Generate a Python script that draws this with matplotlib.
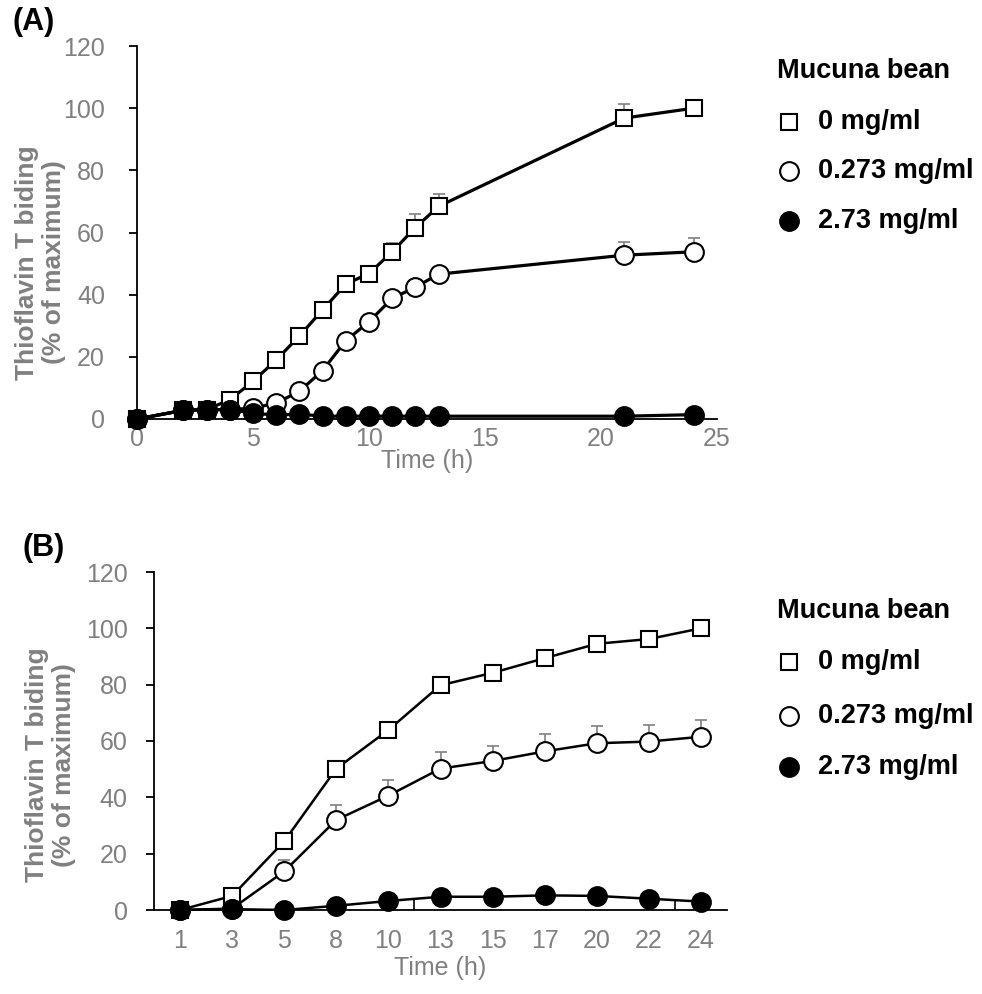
import matplotlib
matplotlib.use("Agg")
import matplotlib.pyplot as plt
from matplotlib.lines import Line2D

plt.rcParams['font.family'] = ['Liberation Sans', 'DejaVu Sans']

GRAY = '#808080'

# ---------------- Panel A data ----------------
time_a = [0, 2, 3, 4, 5, 6, 7, 8, 9, 10, 11, 12, 13, 21, 24]
a_0 = [0, 2.8, 3.0, 6.2, 12.1, 19.0, 26.7, 35.1, 43.4, 46.8, 53.8, 61.6, 68.4, 96.8, 100]
a_0_err = [0, 0, 0, 0, 0, 0, 0, 0, 0, 0, 2.7, 4.5, 4.0, 4.6, 0]
a_0273 = [0, 2.8, 3.0, 3.0, 3.5, 5.1, 8.9, 15.6, 25.2, 31.3, 38.8, 42.4, 46.6, 52.7, 53.8]
a_0273_err = [0, 0, 0, 0, 0, 0, 0, 0, 0, 0, 0, 0, 0, 4.1, 4.3]
a_273 = [0, 2.8, 3.0, 3.0, 1.9, 1.2, 1.6, 0.9, 0.9, 0.9, 0.9, 0.9, 0.9, 0.9, 1.4]

# ---------------- Panel B data ----------------
time_b = ['1', '3', '5', '8', '10', '13', '15', '17', '20', '22', '24']
b_0 = [0, 5.0, 24.4, 50.2, 63.9, 79.8, 84.2, 89.4, 94.5, 96.2, 100]
b_0273 = [0, 0.5, 13.7, 32.0, 40.6, 50.2, 52.9, 56.3, 59.2, 59.8, 61.5]
b_0273_err = [0, 0, 4.0, 5.2, 5.7, 5.8, 5.5, 6.1, 6.1, 5.9, 6.0]
b_273 = [0, 0.3, 0, 1.5, 3.2, 4.7, 4.7, 5.2, 5.0, 4.0, 3.0]

legend_title = 'Mucuna bean'
legend_labels = ['0 mg/ml', '0.273 mg/ml', '2.73 mg/ml']
ylabel = 'Thioflavin T biding\n(% of maximum)'
xlabel = 'Time (h)'

W, H = 982, 994
fig = plt.figure(figsize=(W / 100, H / 100), dpi=100)

def fx(px):
    return px / W

def fy(py):
    return 1 - py / H

def style_axis(ax, ypad):
    for s in ['top', 'right']:
        ax.spines[s].set_visible(False)
    ax.spines['left'].set_linewidth(1.3)
    ax.spines['bottom'].set_linewidth(1.3)
    ax.set_ylim(0, 120)
    ax.set_yticks(range(0, 121, 20))
    ax.tick_params(axis='y', direction='out', length=6, width=1.3, colors='black',
                   labelcolor=GRAY, labelsize=18, pad=ypad)
    ax.tick_params(axis='x', labelcolor=GRAY, labelsize=18)
    ax.set_ylabel(ylabel, fontsize=19, fontweight='bold', color=GRAY,
                  linespacing=1.15, va='center')
    ax.set_xlabel(xlabel, fontsize=18, color=GRAY)

marker_styles = [
    dict(marker='s', mfc='white', mec='black', ms=12, mew=1.5),
    dict(marker='o', mfc='white', mec='black', ms=13.5, mew=1.5),
    dict(marker='o', mfc='black', mec='black', ms=13.5, mew=1.5),
]

def add_legend(fig, title_y, entry_ys):
    fig.text(fx(777), fy(title_y), legend_title, fontsize=19.5, fontweight='bold',
             ha='left', va='center')
    for st, lab, y in zip(marker_styles, legend_labels, entry_ys):
        fig.add_artist(Line2D([fx(789)], [fy(y)], ls='none', transform=fig.transFigure, **st))
        fig.text(fx(818), fy(y), lab, fontsize=19.5, fontweight='bold', ha='left', va='center')

# ---------------- Panel A ----------------
axA = fig.add_axes([fx(137), fy(419), fx(717) - fx(137), fy(46) - fy(419)])
style_axis(axA, 17)
axA.set_xlim(0, 25)
axA.set_xticks(range(0, 26, 5))
axA.tick_params(axis='x', length=0, pad=6)
ekw = dict(ecolor=GRAY, elinewidth=1.2, capsize=4, capthick=1.2)
axA.errorbar(time_a, a_0, yerr=[[0] * len(a_0_err), a_0_err], fmt='none', zorder=1, **ekw)
axA.errorbar(time_a, a_0273, yerr=[[0] * len(a_0273_err), a_0273_err], fmt='none', zorder=1, **ekw)
axA.plot(time_a, a_0, '-', color='black', lw=2.3, zorder=3, clip_on=False, **marker_styles[0])
axA.plot(time_a, a_0273, '-', color='black', lw=2.3, zorder=4, clip_on=False, **marker_styles[1])
axA.plot(time_a, a_273, '-', color='black', lw=2.3, zorder=5, clip_on=False, **marker_styles[2])
axA.yaxis.set_label_coords(-0.166, 0.42)
axA.xaxis.set_label_coords(0.5, -0.113)
axA.xaxis.label.set_va('center')
add_legend(fig, 71, [122, 171, 221])
fig.text(fx(12), fy(22), '(A)', fontsize=22, fontweight='bold', va='center', ha='left')

# ---------------- Panel B ----------------
axB = fig.add_axes([fx(154), fy(910), fx(727) - fx(154), fy(572) - fy(910)])
style_axis(axB, 13)
xb = list(range(len(time_b)))
axB.set_xlim(-0.5, len(time_b) - 0.5)
axB.set_xticks(xb)
axB.set_xticklabels(time_b)
axB.tick_params(axis='x', length=0, pad=14)
axB.set_xticks([4.5, 9.5], minor=True)
axB.tick_params(axis='x', which='minor', direction='in', length=7, width=1.2, color='black')
axB.errorbar(xb, b_0273, yerr=[[0] * len(b_0273_err), b_0273_err], fmt='none', zorder=1, **ekw)
axB.plot(xb, b_0, '-', color='black', lw=1.8, zorder=3, clip_on=False, **marker_styles[0])
axB.plot(xb, b_0273, '-', color='black', lw=1.8, zorder=4, clip_on=False, **marker_styles[1])
axB.plot(xb, b_273, '-', color='black', lw=1.8, zorder=5, clip_on=False, **marker_styles[2])
axB.yaxis.set_label_coords(-0.18, 0.43)
axB.xaxis.set_label_coords(0.5, -0.172)
axB.xaxis.label.set_va('center')
add_legend(fig, 611, [662, 716, 767])
fig.text(fx(22), fy(548), '(B)', fontsize=22, fontweight='bold', va='center', ha='left')

fig.savefig('out.png', dpi=100)
